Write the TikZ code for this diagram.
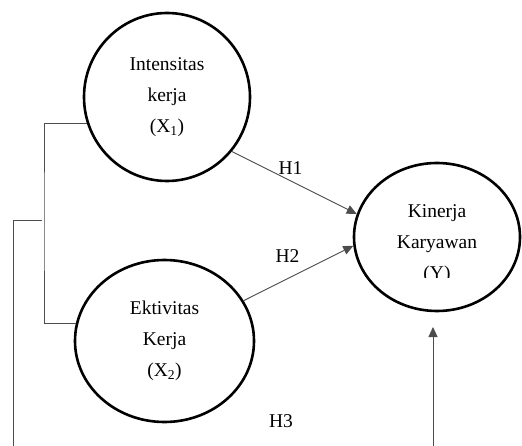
\documentclass[tikz,border=0pt]{standalone}
\usepackage{fontspec}
\setmainfont{Liberation Serif}
\usetikzlibrary{shapes.geometric,arrows.meta,calc}
\begin{document}
\begin{tikzpicture}[x=1pt,y=-1pt,
  var/.style={ellipse,draw=black,line width=2.6pt,inner sep=0pt},
  lbl/.style={align=center,font=\fontsize{19.5}{31}\selectfont,text=black},
  conn/.style={draw=black!70,line width=0.9pt},
  arr/.style={conn,-{Triangle[length=10pt,width=9pt]}},
  hyp/.style={font=\fontsize{19.5}{24}\selectfont,text=black}]
\useasboundingbox (0,0) rectangle (522,446);
\fill[white] (0,0) rectangle (522,446);
\node[var,minimum width=166pt,minimum height=168pt] (X1) at (167,97) {};
\node[lbl] at (X1.center) {Intensitas\\kerja\\(X\textsubscript{1})};
\node[var,minimum width=179pt,minimum height=162pt] (X2) at (164.5,341) {};
\node[lbl] at (X2.center) {Ektivitas\\Kerja\\(X\textsubscript{2})};
\node[var,minimum width=166pt,minimum height=148pt] (Y) at (437,237) {};
\begin{scope}
  \clip ($(Y.center)+(-80,-70)$) rectangle ($(Y.center)+(80,41)$);
  \node[lbl] at ($(Y.center)+(0,7)$) {Kinerja\\Karyawan\\(Y)};
\end{scope}
\coordinate (bx) at (44,220);
\coordinate (bl) at (13,446);
\coordinate (h3b) at (433,446);
\coordinate (h3t) at (433,327);
\draw[arr] (X1.-40) -- node[hyp,pos=0.47,above=3pt] {H1} (Y.164);
\draw[arr] (X2.27) -- node[hyp,pos=0.4,above=12pt] {H2} (Y.186);
\draw[conn] (X1.198) -| (bx) |- (X2.169);
\draw[conn] ($(bx)+(-2,0)$) -| (bl);
\draw[arr] (h3b) -- (h3t);
\node[hyp] (H3) at (281,421) {H3};
\end{tikzpicture}
\end{document}
